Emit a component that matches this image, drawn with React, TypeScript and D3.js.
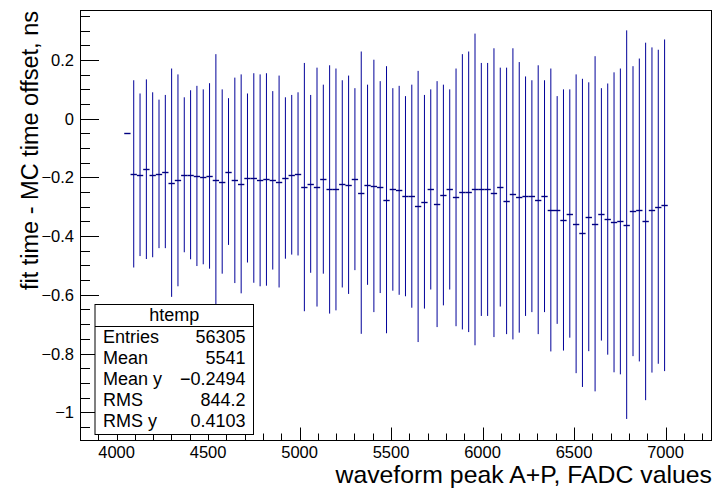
import { useMemo } from "react";
import * as d3 from "d3";

const WIDTH = 714;
const HEIGHT = 490;
const FRAME = { left: 80, right: 712, top: 10, bottom: 440 };

// TProfile binning (htemp, 100 bins)
const X_MIN = 3800;
const X_MAX = 7254;
const N_BINS = 100;
const FIRST_BIN = 7;

const Y_MIN = -1.0947;
const Y_MAX = 0.3704;

// bin means, starting at FIRST_BIN
const means = [
  -0.05, -0.188, -0.191, -0.172, -0.191, -0.188, -0.18, -0.218, -0.21, -0.191,
  -0.191, -0.195, -0.198, -0.195, -0.21, -0.214, -0.18, -0.21, -0.222, -0.202,
  -0.202, -0.21, -0.207, -0.21, -0.214, -0.202, -0.191, -0.188, -0.233, -0.222,
  -0.233, -0.206, -0.241, -0.241, -0.222, -0.225, -0.206, -0.252, -0.225, -0.229,
  -0.233, -0.276, -0.241, -0.244, -0.264, -0.264, -0.299, -0.283, -0.241, -0.291,
  -0.26, -0.241, -0.268, -0.249, -0.249, -0.241, -0.241, -0.241, -0.252, -0.233,
  -0.28, -0.256, -0.268, -0.264, -0.264, -0.276, -0.264, -0.311, -0.311, -0.345,
  -0.323, -0.358, -0.389, -0.334, -0.358, -0.326, -0.342, -0.353, -0.35, -0.361,
  -0.315, -0.311, -0.35, -0.311, -0.3, -0.295,
];

// spread (half length of error bar)
const errors = [
  0, 0.319, 0.277, 0.306, 0.281, 0.253, 0.261, 0.389, 0.361, 0.264,
  0.288, 0.307, 0.298, 0.316, 0.43, 0.314, 0.25, 0.35, 0.373, 0.288,
  0.357, 0.361, 0.362, 0.304, 0.361, 0.275, 0.272, 0.278, 0.423, 0.303,
  0.407, 0.322, 0.423, 0.412, 0.353, 0.372, 0.31, 0.481, 0.341, 0.43,
  0.361, 0.455, 0.345, 0.356, 0.341, 0.38, 0.462, 0.364, 0.341, 0.419,
  0.376, 0.341, 0.439, 0.469, 0.478, 0.531, 0.431, 0.431, 0.492, 0.407,
  0.454, 0.496, 0.461, 0.408, 0.395, 0.458, 0.395, 0.482, 0.388, 0.445,
  0.423, 0.509, 0.525, 0.458, 0.571, 0.43, 0.462, 0.511, 0.521, 0.662,
  0.494, 0.516, 0.609, 0.554, 0.535, 0.565,
];

const xMajorTicks = [4000, 4500, 5000, 5500, 6000, 6500, 7000];
const yMajorTicks = [0.2, 0, -0.2, -0.4, -0.6, -0.8, -1];

const statLabels = ["Entries", "Mean", "Mean y", "RMS", "RMS y"];
const statValues = ["56305", "5541", "\u22120.2494", "844.2", "0.4103"];

const FONT = "'Liberation Sans', Arial, Helvetica, sans-serif";
const LINE_COLOR = "#000099";

const fmtY = (v: number) => (v < 0 ? "\u2212" + String(-v) : String(v));

export default function App() {
  const x = useMemo(
    () => d3.scaleLinear().domain([X_MIN, X_MAX]).range([FRAME.left, FRAME.right]),
    []
  );
  const y = useMemo(
    () => d3.scaleLinear().domain([Y_MIN, Y_MAX]).range([FRAME.bottom, FRAME.top]),
    []
  );

  const binW = (X_MAX - X_MIN) / N_BINS;
  const bins = means.map((m, i) => {
    const lo = X_MIN + (FIRST_BIN + i) * binW;
    return { lo, hi: lo + binW, c: lo + binW / 2, m, e: errors[i] };
  });

  const xMinor = d3.range(3900, 7254, 100).filter((v) => v % 500 !== 0);
  const yMinor = d3.range(-21, 8).map((k) => k * 0.05).filter((v) => Math.abs(Math.round(v * 5) - v * 5) > 1e-6);

  const boxL = 95, boxR = 253.5, boxT = 304.5, boxB = 434.5, titleLine = 326.5;

  return (
    <svg
      width={WIDTH}
      height={HEIGHT}
      style={{ position: "absolute", left: 0, top: 0, background: "white" }}
      fontFamily={FONT}
    >
      {/* profile points */}
      <g stroke={LINE_COLOR} strokeWidth={1}>
        {bins.map((b, i) => (
          <g key={i}>
            {b.e > 0 && (
              <line x1={x(b.c)} x2={x(b.c)} y1={y(b.m + b.e)} y2={y(b.m - b.e)} />
            )}
            <line x1={x(b.lo)} x2={x(b.hi)} y1={Math.round(y(b.m)) + 0.5} y2={Math.round(y(b.m)) + 0.5} strokeWidth={1.4} stroke="#000080" />
          </g>
        ))}
      </g>

      {/* frame */}
      <rect
        x={FRAME.left + 0.5}
        y={FRAME.top + 0.5}
        width={FRAME.right - FRAME.left - 1}
        height={FRAME.bottom - FRAME.top}
        fill="none"
        stroke="#000"
        strokeWidth={1}
      />

      {/* axis ticks */}
      <g stroke="#000" strokeWidth={1}>
        {xMajorTicks.map((t) => (
          <line key={t} x1={Math.round(x(t)) + 0.5} x2={Math.round(x(t)) + 0.5} y1={FRAME.bottom + 0.5} y2={FRAME.bottom - 12.5} />
        ))}
        {xMinor.map((t) => (
          <line key={t} x1={Math.round(x(t)) + 0.5} x2={Math.round(x(t)) + 0.5} y1={FRAME.bottom + 0.5} y2={FRAME.bottom - 6.5} />
        ))}
        {yMajorTicks.map((t) => (
          <line key={t} x1={FRAME.left} x2={FRAME.left + 19} y1={Math.round(y(t)) + 0.5} y2={Math.round(y(t)) + 0.5} />
        ))}
        {yMinor.map((t) => (
          <line key={t} x1={FRAME.left} x2={FRAME.left + 10} y1={Math.round(y(t)) + 0.5} y2={Math.round(y(t)) + 0.5} />
        ))}
      </g>

      {/* tick labels */}
      <g fontSize={16.5} fill="#000">
        {xMajorTicks.map((t) => (
          <text key={t} x={x(t)} y={458} textAnchor="middle">
            {t}
          </text>
        ))}
        {yMajorTicks.map((t) => (
          <text key={t} x={74} y={y(t) + 6} textAnchor="end">
            {fmtY(t)}
          </text>
        ))}
      </g>

      {/* axis titles */}
      <text x={FRAME.right} y={483} textAnchor="end" fontSize={24.8} fill="#000">
        waveform peak A+P, FADC values
      </text>
      <text
        transform={`translate(38, ${FRAME.top + 1}) rotate(-90)`}
        textAnchor="end"
        fontSize={23.5}
        fill="#000"
      >
        fit time - MC time offset, ns
      </text>

      {/* stats box */}
      <rect x={boxL} y={boxT} width={boxR - boxL} height={boxB - boxT} fill="white" stroke="#000" strokeWidth={1} />
      <line x1={boxL} x2={boxR} y1={titleLine} y2={titleLine} stroke="#000" strokeWidth={1} />
      <text x={(boxL + boxR) / 2} y={321} textAnchor="middle" fontSize={18}>
        htemp
      </text>
      <g fontSize={18}>
        {statLabels.map((l, i) => (
          <text key={l} x={103} y={343 + i * 21}>
            {l}
          </text>
        ))}
        {statValues.map((v, i) => (
          <text key={i} x={245.5} y={343 + i * 21} textAnchor="end">
            {v}
          </text>
        ))}
      </g>
    </svg>
  );
}
